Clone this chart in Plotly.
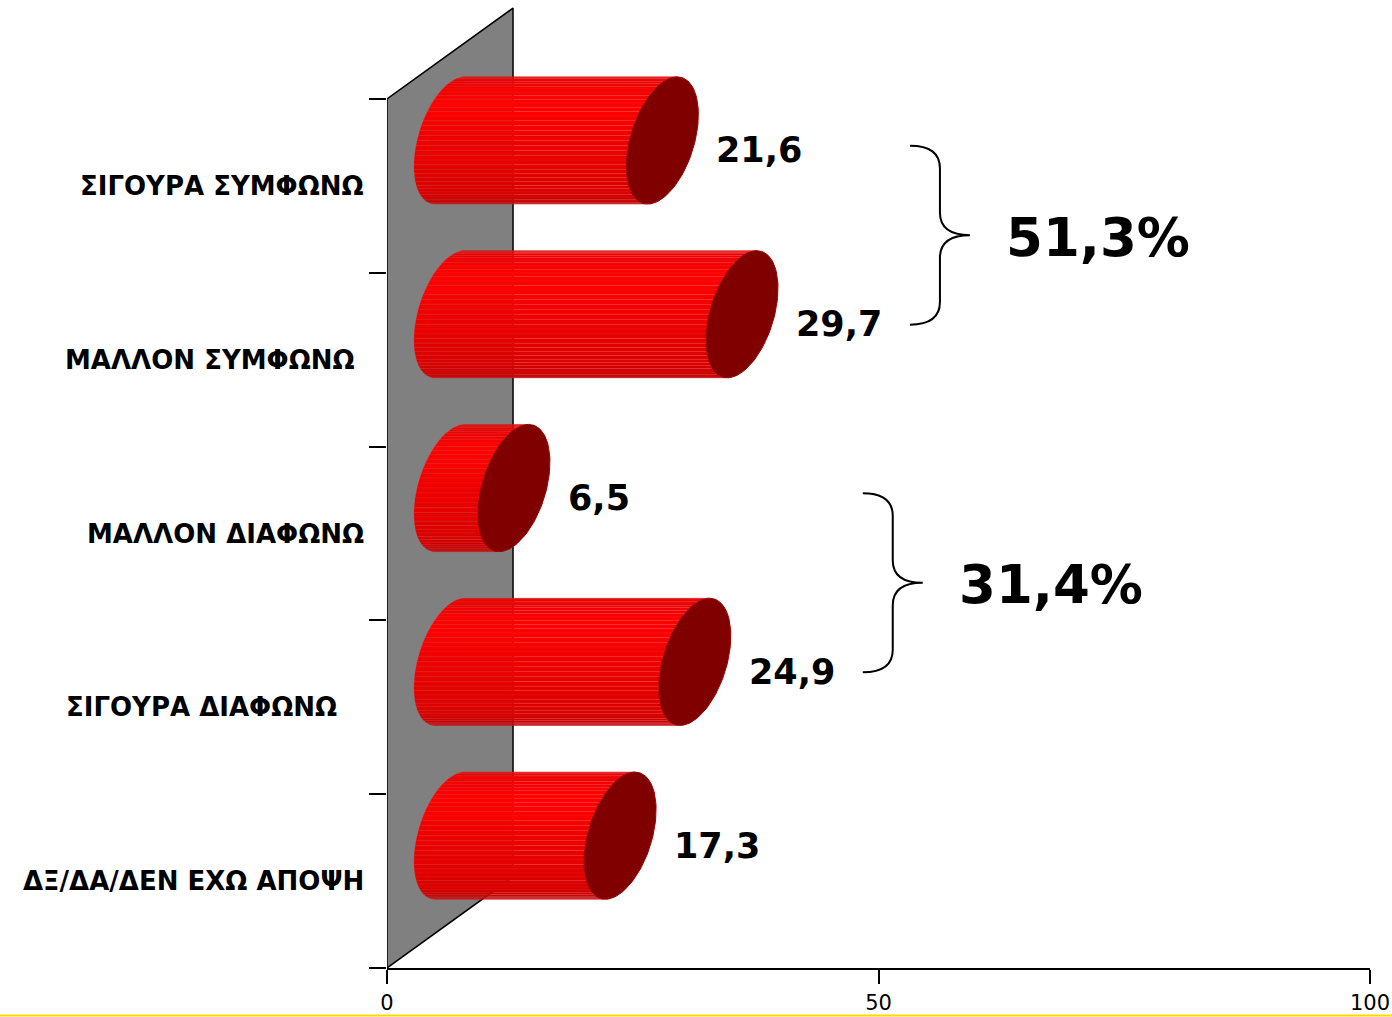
import numpy as np
import plotly.graph_objects as go

# ---------------- data ----------------
categories = ["ΣΙΓΟΥΡΑ ΣΥΜΦΩΝΩ", "ΜΑΛΛΟΝ ΣΥΜΦΩΝΩ\u00a0", "ΜΑΛΛΟΝ ΔΙΑΦΩΝΩ",
              "ΣΙΓΟΥΡΑ ΔΙΑΦΩΝΩ\u00a0\u00a0\u00a0", "ΔΞ/ΔΑ/ΔΕΝ ΕΧΩ ΑΠΟΨΗ"]
values = [21.6, 29.7, 6.5, 24.9, 17.3]
groups = [[0, 1], [2, 3]]          # bracketed category groups (totals computed)
x_ticks = [0, 50, 100]

# ---------------- 3D projection parameters ----------------
N = len(categories)
DEPTH_X = 12.82      # x-units shift for full depth
DEPTH_Y = 0.523      # y-units shift for full depth
ZC = 0.5             # cylinder centre depth
R = 0.286            # cylinder radius (depth units)
RY = 0.334           # cylinder radius (y units)
NSTRIP = 40

Y_PER_PX = 1 / 173.8
Y_MAX = 964 * Y_PER_PX

def slot_y(i):
    return N - 1 - i + 0.5

def cyl_point(x, yc, t):
    z = ZC + R * np.sin(t)
    return x + z * DEPTH_X, yc + RY * np.cos(t) + z * DEPTH_Y

stops = [(0.0, (190, 0, 0)), (0.1, (228, 0, 0)), (0.3, (255, 0, 0)),
         (0.55, (234, 0, 0)), (0.8, (214, 0, 0)), (1.0, (172, 0, 0))]

def shade(f):
    for (f0, c0), (f1, c1) in zip(stops[:-1], stops[1:]):
        if f0 <= f <= f1:
            u = (f - f0) / (f1 - f0)
            return tuple(int(round(a + (b - a) * u)) for a, b in zip(c0, c1))
    return stops[-1][1]

fig = go.Figure()

# gray side wall (x = 0 plane, extends in depth)
wall_x = [0, 0, DEPTH_X, DEPTH_X, 0]
wall_y = [0, N, N + DEPTH_Y, DEPTH_Y, 0]
fig.add_trace(go.Scatter(x=wall_x, y=wall_y, mode="lines", fill="toself",
                         fillcolor="#808080", line=dict(color="black", width=1.5),
                         hoverinfo="skip", showlegend=False))

t_top = np.arctan2(R * DEPTH_Y, RY)
ts = t_top - np.linspace(0, np.pi, NSTRIP + 1)

# cylinder bodies as stacked strips
for k in range(NSTRIP):
    xs, ys = [], []
    for i, v in enumerate(values):
        yc = slot_y(i)
        xa, ya = cyl_point(0, yc, ts[k])
        xb, yb = cyl_point(0, yc, ts[k + 1])
        xc, _ = cyl_point(v, yc, ts[k + 1])
        xd, _ = cyl_point(v, yc, ts[k])
        xs += [xa, xb, xc, xd, xa, None]
        ys += [ya, yb, yb, ya, ya, None]
    c = shade((k + 0.5) / NSTRIP)
    lc = tuple(min(255, ch + 40) for ch in c)
    fig.add_trace(go.Scatter(x=xs, y=ys, mode="lines", fill="toself",
                             fillcolor="rgb(%d,%d,%d)" % c,
                             line=dict(color="rgba(%d,%d,%d,0.5)" % lc, width=0.5),
                             hoverinfo="skip", showlegend=False))

# end caps
tt = np.linspace(0, 2 * np.pi, 121)
cx, cy = [], []
for i, v in enumerate(values):
    px, py = cyl_point(v, slot_y(i), tt)
    cx += list(px) + [None]
    cy += list(py) + [None]
fig.add_trace(go.Scatter(x=cx, y=cy, mode="lines", fill="toself",
                         fillcolor="#800000", line=dict(color="#9a0000", width=1),
                         hoverinfo="skip", showlegend=False))

annotations = []
# category labels
for i, name in enumerate(categories):
    annotations.append(dict(x=0, y=slot_y(i), xref="x", yref="y", text=name,
                            showarrow=False, xanchor="right", yanchor="middle",
                            xshift=-21,
                            font=dict(family="DejaVu Sans", size=26, color="black",
                                      weight="bold")))
# value labels
for i, v in enumerate(values):
    annotations.append(dict(x=v + (ZC + R) * DEPTH_X, y=slot_y(i) + ZC * DEPTH_Y,
                            xref="x", yref="y",
                            text=f"{v:.1f}".replace(".", ","), showarrow=False,
                            xanchor="left", yanchor="middle", xshift=16, yshift=-10,
                            font=dict(family="DejaVu Sans", size=35, color="black",
                                      weight="bold")))

# braces with totals
shapes = []
for g in groups:
    total = sum(values[i] for i in g)
    x0 = max(values[i] for i in g) + 23.5
    w = 6.1
    xm, xt = x0 + w / 2, x0 + w
    yt = slot_y(g[0]) + ZC * DEPTH_Y - 0.03
    yb = slot_y(g[-1]) + ZC * DEPTH_Y - 0.06
    ym = (yt + yb) / 2
    r = 0.13
    path = (f"M {x0},{yt} Q {xm},{yt} {xm},{yt - r} L {xm},{ym + r} "
            f"Q {xm},{ym} {xt},{ym} Q {xm},{ym} {xm},{ym - r} "
            f"L {xm},{yb + r} Q {xm},{yb} {x0},{yb}")
    shapes.append(dict(type="path", path=path, xref="x", yref="y",
                       line=dict(color="black", width=2)))
    annotations.append(dict(x=xt, y=ym, xref="x", yref="y",
                            text=f"{total:.1f}%".replace(".", ","), showarrow=False,
                            xanchor="left", yanchor="middle", xshift=34, yshift=-2,
                            font=dict(family="DejaVu Sans", size=53, color="black",
                                      weight="bold")))

# yellow slide rule at the bottom
shapes.append(dict(type="line", xref="paper", yref="paper",
                   x0=-387 / 983, x1=1005 / 983, y0=-47.5 / 964, y1=-47.5 / 964,
                   line=dict(color="#FFD700", width=2)))

fig.update_layout(
    width=1392, height=1017,
    margin=dict(l=387, r=22, t=4, b=49, autoexpand=False),
    paper_bgcolor="white", plot_bgcolor="white",
    showlegend=False,
    xaxis=dict(range=[0, 100], tickvals=x_ticks, ticktext=[str(t) for t in x_ticks],
               showline=True, linecolor="black", linewidth=1.5, automargin=False,
               ticks="outside", ticklen=14, tickcolor="black", tickwidth=1.5,
               ticklabelstandoff=1,
               showgrid=False, zeroline=False,
               tickfont=dict(family="DejaVu Sans", size=21, color="black")),
    yaxis=dict(range=[0, Y_MAX], tickvals=list(range(N + 1)), showticklabels=False,
               showline=False, ticks="outside", ticklen=17, tickcolor="black",
               tickwidth=1.5, showgrid=False, zeroline=False, automargin=False),
    annotations=annotations, shapes=shapes,
)

fig.write_html("out.html", config={"displayModeBar": False},
               post_script="document.body.style.margin='0';"
                           "document.body.style.overflow='hidden';")
